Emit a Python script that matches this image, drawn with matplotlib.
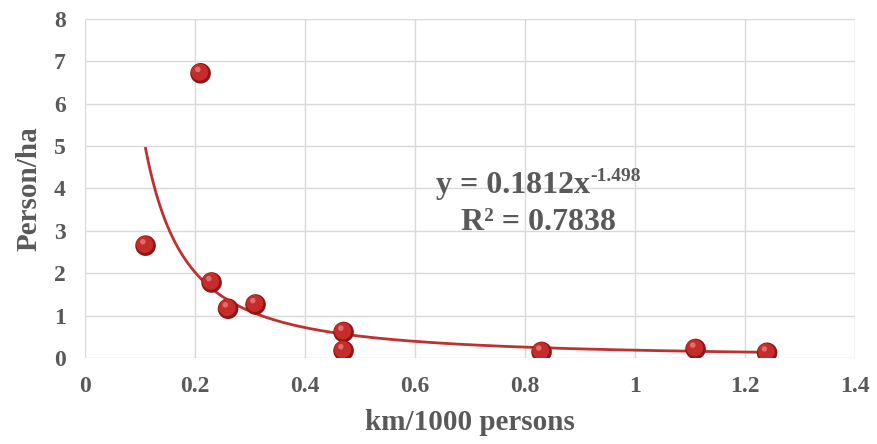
import matplotlib.pyplot as plt
import numpy as np
from matplotlib.transforms import offset_copy

plt.rcParams['font.family'] = ['Liberation Serif', 'DejaVu Serif']
plt.rcParams['font.weight'] = 'bold'

km_per_1000 = [0.11, 0.21, 0.23, 0.26, 0.31, 0.47, 0.47, 0.83, 1.11, 1.24]
person_ha = [2.65, 6.72, 1.78, 1.16, 1.26, 0.61, 0.17, 0.14, 0.21, 0.12]
coef_a = 0.1812
coef_b = -1.498
r2 = 0.7838

txt = '#595959'
fig = plt.figure(figsize=(8.77, 4.44), dpi=100)
ax = fig.add_axes([0.097, 0.194, 0.878, 0.763])

# power trendline
xs = np.linspace(min(km_per_1000), max(km_per_1000), 300)
ax.plot(xs, coef_a * xs ** coef_b, color='#c0302f', lw=2, zorder=3)

# sphere-ish markers
ax.scatter(km_per_1000, person_ha, s=220, color='#8e1616', zorder=4, edgecolors='none')
ax.scatter(km_per_1000, person_ha, s=150, color='#c42d2a',
           transform=offset_copy(ax.transData, fig=fig, x=-0.6, y=0.8, units='points'),
           zorder=5, edgecolors='none')
ax.scatter(km_per_1000, person_ha, s=16, color='#ee9a9a', alpha=0.6,
           transform=offset_copy(ax.transData, fig=fig, x=-2, y=2.8, units='points'),
           zorder=6, edgecolors='none')

ax.set_xlim(0, 1.4)
ax.set_ylim(0, 8)
ax.set_xticks(np.arange(0, 1.41, 0.2))
ax.set_xticklabels(['0', '0.2', '0.4', '0.6', '0.8', '1', '1.2', '1.4'])
ax.set_yticks(range(0, 9))
ax.grid(True, color='#d9d9d9', lw=1)
ax.set_axisbelow(True)
for s in ax.spines.values():
    s.set_visible(False)
ax.tick_params(length=0, labelsize=17, labelcolor=txt)
ax.tick_params(axis='x', pad=13)
ax.tick_params(axis='y', pad=14)

ax.set_xlabel('km/1000 persons', fontsize=21, fontweight='bold', color=txt, labelpad=9)
ax.set_ylabel('Person/ha', fontsize=21, fontweight='bold', color=txt, labelpad=8)

# trendline equation, exponent drawn as its own smaller text
ax.text(0.918, 3.89, 'y = %.4fx' % coef_a, ha='right', va='baseline',
        fontsize=23, color=txt)
ax.text(0.918, 4.17, '%.3f' % coef_b, ha='left', va='baseline',
        fontsize=14, color=txt)
ax.text(0.824, 3.02, 'R² = %.4f' % r2, ha='center', va='baseline', fontsize=23, color=txt)

plt.savefig('out.png', dpi=100)
